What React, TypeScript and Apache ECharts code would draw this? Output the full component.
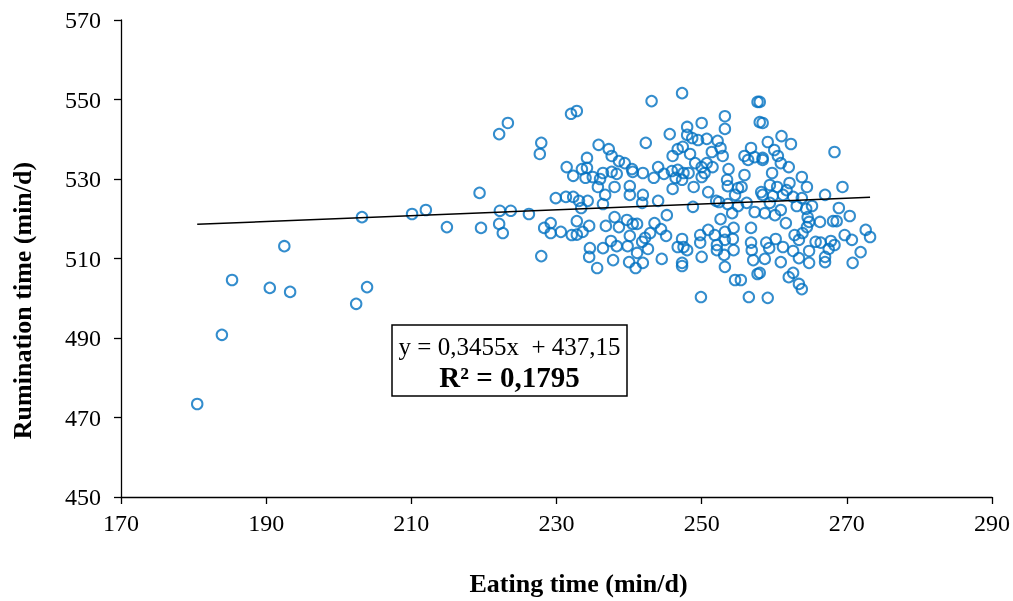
import React, { useEffect, useRef } from "react";
import * as echarts from "echarts";

const eatingTime: number[] = [
  180.5, 183.9, 185.3, 190.5, 192.5, 193.3, 202.4, 203.2, 203.9, 210.1, 212.0, 214.9, 219.4, 219.6, 222.1, 223.3, 222.2, 223.7, 222.1, 222.6, 226.2, 227.9, 227.7, 228.3, 227.9,
  232.8, 232.0, 243.1, 235.8, 242.3, 237.2, 237.6, 234.2, 238.6, 239.4, 231.4, 232.3, 233.5, 234.2, 234.0, 235.0, 236.0, 236.4, 237.6, 238.3, 240.4, 240.5, 241.9, 235.7, 238.0, 240.1, 240.1, 236.7, 241.9, 229.9, 231.3, 232.3, 233.1, 234.3, 236.4, 233.4, 241.8, 232.8, 229.2, 229.2, 230.6, 232.1, 232.8, 233.6, 234.5, 236.8, 238.0, 238.6, 239.7, 240.5, 241.1, 240.1, 237.5, 238.3, 239.8, 241.8, 241.1, 234.6, 234.5, 236.4, 237.8, 240.0, 241.9, 240.9, 235.6,
  247.3, 257.7, 253.2, 250.0, 253.2, 248.0, 258.0, 245.6, 248.0, 248.7, 249.5, 250.7, 252.2, 246.7, 247.4, 246.0, 248.4, 251.4, 252.6, 252.9, 255.9, 256.8, 257.3, 256.4, 258.4, 244.0, 244.8, 243.4, 245.9, 246.7, 246.4, 247.5, 248.2, 249.1, 250.0, 250.7, 251.5, 250.4, 250.0, 247.3, 253.7, 253.5, 253.6, 255.9, 246.0, 248.9, 250.9, 255.0, 255.5, 254.6, 258.2, 258.4, 244.0, 248.8, 252.0, 252.4, 253.6, 255.0, 254.2, 256.2, 257.3, 245.2, 252.6, 243.5, 244.4, 242.9, 245.1, 242.2, 250.9, 253.2, 254.4, 256.8, 247.3, 249.8, 251.8, 253.2, 254.3, 246.7, 247.5, 248.0, 249.8, 252.1, 252.1, 254.4, 256.8, 256.9, 242.6, 244.5, 250.0, 253.1, 257.1, 247.3, 247.3, 253.2, 257.7, 254.6, 255.4, 249.9, 256.5,
  258.0, 258.4, 261.0, 262.3, 259.1, 268.3, 260.0, 260.5, 258.4, 260.9, 262.0, 259.7, 263.8, 262.1, 264.5, 269.4, 259.4, 260.4, 261.7, 267.0, 259.8, 262.6, 263.8, 261.2, 259.4, 263.1, 265.2, 264.4, 260.9, 268.9, 258.7, 260.1, 270.4, 264.6, 264.8, 266.3, 268.1, 268.6, 261.6, 264.5, 272.6, 273.2, 269.7, 270.7, 262.8, 263.9, 260.2, 258.9, 263.4, 265.7, 266.4, 267.8, 268.3, 261.2, 259.3, 262.6, 264.8, 267.5, 271.9, 258.7, 260.9, 263.4, 264.8, 267.0, 267.0, 270.8, 258.0, 262.6, 262.0, 263.4, 263.8, 259.1,
];

const ruminationTime: number[] = [
  473.4, 490.8, 504.6, 502.6, 513.1, 501.6, 498.6, 520.4, 502.8, 521.2, 522.2, 517.9, 526.5, 517.7, 541.3, 544.1, 522.0, 522.0, 518.7, 516.4, 521.2, 539.1, 536.3, 517.7, 510.6,
  547.1, 546.4, 549.6, 538.6, 539.1, 537.5, 535.8, 535.3, 534.5, 534.0, 533.0, 530.8, 532.5, 532.8, 530.3, 530.5, 530.0, 531.5, 531.8, 531.3, 532.5, 531.8, 531.5, 528.0, 528.0, 528.2, 526.0, 526.0, 526.0, 525.2, 525.5, 525.5, 524.5, 524.5, 523.7, 522.7, 524.0, 519.4, 518.9, 516.4, 516.7, 515.9, 516.0, 516.7, 518.2, 518.2, 520.4, 517.9, 519.7, 518.7, 518.7, 515.7, 514.4, 513.1, 513.1, 514.2, 511.4, 512.6, 510.4, 512.6, 509.6, 509.1, 508.9, 507.6, 507.6,
  551.6, 549.4, 545.8, 544.1, 542.6, 543.1, 544.3, 541.3, 541.1, 540.3, 539.8, 540.1, 539.6, 537.5, 538.1, 535.8, 536.3, 536.8, 537.8, 535.8, 535.8, 537.8, 535.5, 534.8, 534.8, 533.0, 531.3, 530.3, 532.0, 532.3, 530.3, 531.5, 531.5, 534.0, 533.0, 534.0, 533.0, 531.5, 530.5, 529.8, 532.5, 529.8, 528.2, 531.0, 527.5, 528.0, 526.7, 527.7, 528.0, 526.0, 526.7, 526.0, 524.5, 523.0, 524.5, 524.2, 523.7, 523.2, 521.4, 524.0, 521.7, 520.9, 519.9, 518.9, 517.4, 516.4, 515.7, 515.2, 517.2, 516.7, 517.7, 517.7, 514.9, 515.9, 515.9, 514.7, 514.9, 512.9, 512.9, 512.1, 514.0, 513.4, 512.1, 512.1, 514.0, 512.1, 512.4, 509.9, 510.4, 510.9, 509.6, 508.9, 508.1, 507.9, 506.1, 504.6, 504.6, 500.3, 500.3,
  549.4, 544.1, 540.8, 538.8, 539.3, 536.8, 537.3, 535.8, 535.3, 534.0, 533.0, 531.5, 530.5, 529.0, 528.0, 528.0, 528.5, 528.0, 527.2, 526.0, 525.7, 525.5, 525.2, 526.0, 524.0, 523.2, 523.2, 522.5, 522.2, 522.7, 521.4, 520.9, 520.7, 520.4, 519.2, 519.2, 519.4, 519.4, 518.9, 517.9, 517.2, 515.4, 515.9, 514.7, 515.9, 516.4, 514.9, 514.0, 514.7, 514.2, 514.0, 514.4, 513.4, 512.9, 512.6, 511.9, 511.9, 512.4, 511.6, 509.9, 509.1, 510.1, 508.9, 509.1, 510.4, 508.9, 506.4, 506.4, 505.3, 503.6, 502.3, 500.1,
];

const trendX: number[] = [180.5, 273.2];
const trendY: number[] = [518.6, 525.4];

const xTicks: number[] = [170, 190, 210, 230, 250, 270, 290];
const yTicks: number[] = [450, 470, 490, 510, 530, 550, 570];

const xTitle = "Eating time (min/d)";
const yTitle = "Rumination time (min/d)";
const equationText = "y = 0,3455x  + 437,15";
const r2Text = "R² = 0,1795";

const FONT = "Liberation Serif";

export default function App() {
  const ref = useRef<HTMLDivElement>(null);

  useEffect(() => {
    if (!ref.current) return;
    const chart = echarts.init(ref.current, null, { renderer: "svg" });
    const points = eatingTime.map((x, i) => [x, ruminationTime[i]]);
    const trend = trendX.map((x, i) => [x, trendY[i]]);

    chart.setOption({
      animation: false,
      grid: { left: 121, right: 21, top: 20, bottom: 104 },
      xAxis: {
        type: "value",
        min: xTicks[0],
        max: xTicks[xTicks.length - 1],
        interval: xTicks[1] - xTicks[0],
        name: xTitle,
        nameLocation: "middle",
        nameGap: 73,
        nameTextStyle: { color: "#000", fontSize: 26, fontWeight: "bold", fontFamily: FONT, padding: [0, 0, 0, 44] },
        axisLine: { show: true, onZero: false, lineStyle: { color: "#000", width: 1.3 } },
        axisTick: { show: true, length: 7, lineStyle: { color: "#000", width: 1.3 } },
        axisLabel: { color: "#000", fontSize: 24, fontFamily: FONT, margin: 14 },
        splitLine: { show: false },
      },
      yAxis: {
        type: "value",
        min: yTicks[0],
        max: yTicks[yTicks.length - 1],
        interval: yTicks[1] - yTicks[0],
        name: yTitle,
        nameLocation: "middle",
        nameGap: 86,
        nameTextStyle: { color: "#000", fontSize: 26, fontWeight: "bold", fontFamily: FONT, padding: [0, 84, 0, 0] },
        axisLine: { show: true, onZero: false, lineStyle: { color: "#000", width: 1.3 } },
        axisTick: { show: true, length: 7, lineStyle: { color: "#000", width: 1.3 } },
        axisLabel: { color: "#000", fontSize: 24, fontFamily: FONT, margin: 20 },
        splitLine: { show: false },
      },
      series: [
        {
          type: "scatter",
          data: points,
          symbol: "circle",
          symbolSize: 10.5,
          itemStyle: { color: "rgba(255,255,255,0)", borderColor: "#0070C0", borderWidth: 2 },
          z: 2,
        },
        {
          type: "line",
          data: trend,
          symbol: "none",
          lineStyle: { color: "#000", width: 1.5 },
          z: 3,
        },
      ],
      graphic: [
        {
          type: "rect",
          shape: { x: 392, y: 325, width: 235, height: 71 },
          style: { fill: "#fff", stroke: "#000", lineWidth: 1.5 },
          z: 10,
        },
        {
          type: "text",
          x: 509.5,
          y: 346,
          style: { text: equationText, fill: "#000", fontSize: 25, fontFamily: FONT, align: "center", verticalAlign: "middle" },
          z: 11,
        },
        {
          type: "text",
          x: 509.5,
          y: 377,
          style: { text: r2Text, fill: "#000", fontSize: 29, fontWeight: "bold", fontFamily: FONT, align: "center", verticalAlign: "middle" },
          z: 11,
        },
      ],
    });
    return () => chart.dispose();
  }, []);

  return (
    <div
      ref={ref}
      style={{ position: "fixed", left: 0, top: 0, width: 1013, height: 601 }}
    />
  );
}
